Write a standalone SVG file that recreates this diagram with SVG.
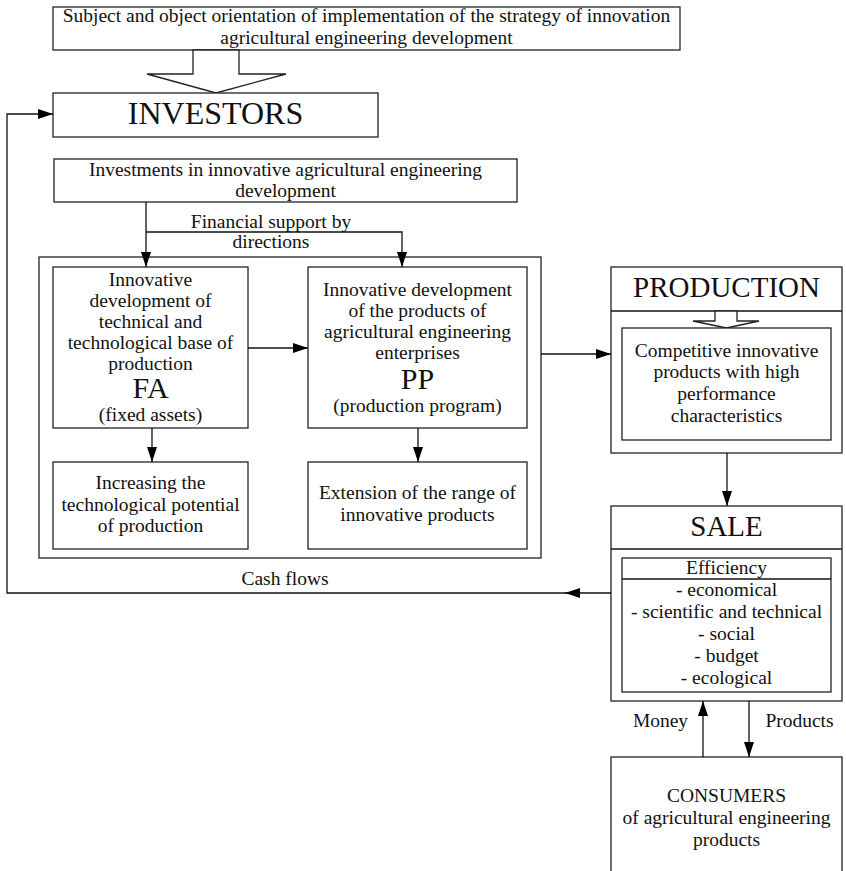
<svg xmlns="http://www.w3.org/2000/svg" width="846" height="871" viewBox="0 0 846 871">
<defs>
<marker id="ah" markerUnits="userSpaceOnUse" markerWidth="15" markerHeight="10" refX="15" refY="5" orient="auto">
<path d="M0,0 L15,5 L0,10 z" fill="#000"/>
</marker>
<style>
.b{fill:#fff;stroke:#222;stroke-width:1.3}
.c{fill:none;stroke:#111;stroke-width:1.3}
.t{font-family:"Liberation Serif","Times New Roman",serif;font-size:19.5px;fill:#111;text-anchor:middle}
.big{font-size:32px}
.mid{font-size:30px}
.h{font-size:29px}
</style>
</defs>
<rect width="846" height="871" fill="#fff"/>

<g id="strategy">
<rect class="b" x="53" y="7" width="627" height="43"/>
<text class="t" x="366.5" y="22">Subject and object orientation of implementation of the strategy of innovation</text>
<text class="t" x="366.5" y="44">agricultural engineering development</text>
<polygon class="b" points="193,50 193,74 147,74 216,93 286,74 239,74 239,50"/>
</g>

<g id="investors">
<rect class="b" x="53" y="93" width="325" height="44"/>
<text class="t big" x="215.5" y="124">INVESTORS</text>
</g>

<g id="investments">
<rect class="b" x="54" y="159" width="463" height="43"/>
<text class="t" x="285.5" y="176">Investments in innovative agricultural engineering</text>
<text class="t" x="285.5" y="197">development</text>
</g>

<g id="outer">
<rect class="b" x="39" y="257" width="502" height="301"/>
</g>

<g id="fa">
<rect class="b" x="53" y="267" width="195" height="161"/>
<text class="t" x="150.5" y="286">Innovative</text>
<text class="t" x="150.5" y="307">development of</text>
<text class="t" x="150.5" y="328">technical and</text>
<text class="t" x="150.5" y="349">technological base of</text>
<text class="t" x="150.5" y="370">production</text>
<text class="t mid" x="150.5" y="398">FA</text>
<text class="t" x="150.5" y="421">(fixed assets)</text>
</g>

<g id="pp">
<rect class="b" x="308" y="267" width="219" height="161"/>
<text class="t" x="417.5" y="296">Innovative development</text>
<text class="t" x="417.5" y="317">of the products of</text>
<text class="t" x="417.5" y="338">agricultural engineering</text>
<text class="t" x="417.5" y="359">enterprises</text>
<text class="t mid" x="417.5" y="389">PP</text>
<text class="t" x="417.5" y="412">(production program)</text>
</g>

<g id="potential">
<rect class="b" x="53" y="462" width="195" height="87"/>
<text class="t" x="150.5" y="489">Increasing the</text>
<text class="t" x="150.5" y="511">technological potential</text>
<text class="t" x="150.5" y="532">of production</text>
</g>

<g id="range">
<rect class="b" x="308" y="462" width="219" height="87"/>
<text class="t" x="417.5" y="499">Extension of the range of</text>
<text class="t" x="417.5" y="521">innovative products</text>
</g>

<g id="production">
<rect class="b" x="611" y="267" width="231" height="186"/>
<line class="c" x1="611" y1="311" x2="842" y2="311"/>
<text class="t h" x="726.5" y="297">PRODUCTION</text>
<polygon class="b" points="715,311 715,321 693,321 726.5,328 759,321 737,321 737,311"/>
<rect class="b" x="622" y="328" width="209" height="112"/>
<text class="t" x="726.5" y="357">Competitive innovative</text>
<text class="t" x="726.5" y="378">products with high</text>
<text class="t" x="726.5" y="400">performance</text>
<text class="t" x="726.5" y="422">characteristics</text>
</g>

<g id="sale">
<rect class="b" x="611" y="506" width="231" height="195"/>
<line class="c" x1="611" y1="549" x2="842" y2="549"/>
<text class="t h" x="726.5" y="536">SALE</text>
<rect class="b" x="622" y="558" width="209" height="134"/>
<line class="c" x1="622" y1="579" x2="831" y2="579"/>
<text class="t" x="726.5" y="574">Efficiency</text>
<text class="t" x="726.5" y="596">- economical</text>
<text class="t" x="726.5" y="618">- scientific and technical</text>
<text class="t" x="726.5" y="640">- social</text>
<text class="t" x="726.5" y="662">- budget</text>
<text class="t" x="726.5" y="684">- ecological</text>
</g>

<g id="consumers">
<rect class="b" x="611" y="757" width="231" height="130"/>
<text class="t" x="726.5" y="802">CONSUMERS</text>
<text class="t" x="726.5" y="824">of agricultural engineering</text>
<text class="t" x="726.5" y="846">products</text>
</g>

<g id="connectors">
<path class="c" d="M146,202 V267" marker-end="url(#ah)"/>
<path class="c" d="M146,232 H402 V267" marker-end="url(#ah)"/>
<path class="c" d="M248,348 H308" marker-end="url(#ah)"/>
<path class="c" d="M152,428 V462" marker-end="url(#ah)"/>
<path class="c" d="M418,428 V462" marker-end="url(#ah)"/>
<path class="c" d="M541,354 H611" marker-end="url(#ah)"/>
<path class="c" d="M727,453 V506" marker-end="url(#ah)"/>
<path class="c" d="M611,593 H565" marker-end="url(#ah)"/>
<path class="c" d="M566,593 H7 V114 H53" marker-end="url(#ah)"/>
<path class="c" d="M703,757 V701" marker-end="url(#ah)"/>
<path class="c" d="M749,701 V757" marker-end="url(#ah)"/>
<text class="t" x="271" y="228">Financial support by</text>
<text class="t" x="271" y="248">directions</text>
<text class="t" x="285" y="585">Cash flows</text>
<text class="t" x="660.5" y="727">Money</text>
<text class="t" x="799.5" y="727">Products</text>
</g>
</svg>
